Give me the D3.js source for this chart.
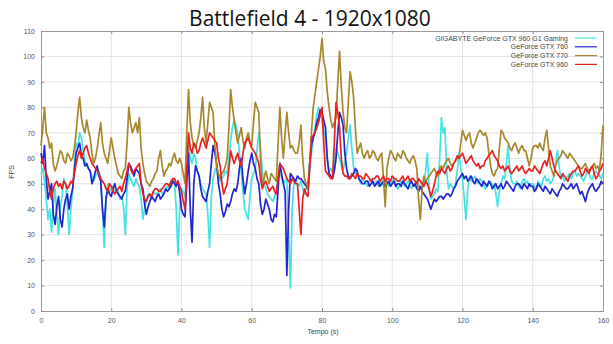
<!DOCTYPE html>
<html><head><meta charset="utf-8">
<script src="https://cdn.jsdelivr.net/npm/d3@7"></script>
<style>body{margin:0;background:#fff}svg{display:block}</style>
</head><body>
<svg id="c" width="613" height="344"></svg>
<script>
const title = "Battlefield 4 - 1920x1080";
const xLabel = "Tempo (s)";
const yLabel = "FPS";
const xTicks = [0,20,40,60,80,100,120,140,160];
const yTicks = [0,10,20,30,40,50,60,70,80,90,100,110];
const sampleStep = 0.5; // seconds between samples
const seriesNames = ["GIGABYTE GeForce GTX 960 G1 Gaming","GeForce GTX 760","GeForce GTX 770","GeForce GTX 960"];
const seriesColors = ["#45e2e2","#2424cc","#a8872c","#e82222"];

// samples every 0.5 s, t = 0..160 (one row = 10 s)
const gtx960g1 = [
54,56,51,44,36,40,31,42,48,38,30,41,45,52,50,42,30,40,47,58,
66,64,70,68,63,59,57,56,55,53,51,53,54,55,52,40,25,44,50,47,
48,49,46,48,47,44,45,41,30,48,54,52,50,49,52,50,49,44,36,40,
44,46,45,44,47,46,46,47,48,46,47,48,49,48,50,52,51,40,22,41,
48,47,45,56,65,60,58,62,60,55,53,50,48,47,46,38,25,45,52,55,
57,53,51,52,53,55,54,60,67,72,75,73,70,62,55,47,40,38,36,45,
52,54,56,63,70,64,55,50,48,46,45,44,43,45,47,52,55,52,50,51,
52,30,9,40,50,51,50,49,51,48,46,48,50,56,62,68,72,77,80,78,
75,71,68,60,55,56,54,58,64,62,60,57,55,59,62,68,73,64,56,54,
55,52,50,52,51,50,49,51,52,50,50,51,49,50,51,49,50,51,49,50,
51,52,50,48,49,51,51,49,50,51,49,48,50,49,51,50,48,49,50,55,
62,48,44,45,46,48,47,60,76,70,72,55,48,50,49,48,50,55,62,56,
52,44,36,48,53,51,52,53,51,50,52,51,50,48,49,50,51,49,50,46,
41,47,50,53,52,58,65,55,51,50,50,51,49,48,51,52,50,51,49,50,
50,49,48,51,50,49,52,53,51,52,50,51,53,58,63,57,52,53,51,52,
53,54,52,54,55,53,54,53,52,51,53,55,54,52,52,54,55,54,53,52,
54];
const gtx760 = [
62,58,65,52,44,47,50,38,34,41,45,36,33,40,44,46,40,45,48,55,
62,64,66,61,60,57,58,56,55,50,52,55,57,53,51,40,33,44,48,46,
45,48,50,47,46,45,44,46,47,52,58,57,55,53,56,55,54,50,48,42,
38,41,43,45,44,43,45,46,44,45,46,48,47,48,49,51,50,49,51,46,
40,38,37,50,62,40,27,50,57,55,53,48,45,44,43,47,50,58,65,62,
58,50,46,40,37,39,42,41,43,46,48,47,50,56,60,52,46,50,55,59,
62,58,56,52,50,42,38,40,44,42,40,36,35,38,37,48,58,54,50,47,
14,40,54,53,52,51,53,52,52,51,50,49,48,58,65,68,70,74,76,79,
78,75,72,60,54,53,52,55,60,70,78,76,73,62,56,53,52,53,54,56,
55,52,51,50,50,51,51,49,50,51,49,50,51,49,50,51,49,50,51,49,
50,51,49,50,50,49,51,50,49,48,50,51,49,50,48,47,49,47,46,45,
44,42,40,42,44,43,44,45,45,44,45,46,46,45,46,48,49,51,52,53,
54,52,53,51,52,53,51,50,52,51,50,49,51,50,49,51,50,48,49,50,
48,49,50,48,49,51,50,49,48,47,49,50,50,49,48,50,49,48,50,49,
49,47,48,50,49,48,47,49,48,47,46,48,47,46,45,47,48,50,49,48,
48,49,50,48,49,50,48,46,47,45,43,46,48,49,50,48,47,48,49,51,
50];
const gtx770 = [
65,72,80,70,68,64,66,58,55,57,60,63,62,59,58,62,61,59,60,64,
70,78,84,76,72,70,75,71,68,62,58,60,64,69,74,66,62,60,58,63,
68,64,60,57,54,53,52,55,56,66,80,74,70,72,74,70,76,64,58,54,
51,50,49,51,52,54,55,60,63,57,53,55,56,58,57,60,62,59,58,60,
58,54,50,70,87,74,68,65,64,67,70,76,84,72,66,74,82,80,78,65,
57,54,52,54,55,57,60,72,87,80,75,70,66,69,72,67,64,68,70,66,
65,74,82,80,78,60,49,52,55,52,50,54,53,52,51,66,80,68,60,70,
78,70,64,65,63,62,62,66,73,60,52,50,48,58,70,80,85,90,95,100,
107,98,95,86,80,75,72,74,76,90,102,88,78,72,70,82,94,90,84,72,
62,64,66,62,60,62,63,60,61,63,62,60,59,61,62,52,41,56,60,63,
62,60,59,62,61,60,63,62,60,59,58,60,61,59,56,44,36,48,53,51,
52,53,54,55,56,54,53,56,57,56,58,59,60,58,57,58,59,60,60,66,
71,69,67,69,70,66,64,66,68,70,71,70,69,70,68,62,57,54,53,55,
56,64,71,70,68,67,66,64,63,65,66,64,62,64,65,63,63,60,57,60,
64,65,65,64,66,64,63,68,71,64,57,55,53,57,59,60,61,63,62,61,
60,62,61,60,59,58,57,56,56,57,58,56,55,56,57,58,56,57,55,62,
73];
const gtx960 = [
58,60,56,54,52,47,44,48,50,51,49,50,48,51,50,48,49,51,50,54,
58,61,63,60,62,64,65,62,60,58,57,56,55,54,52,51,50,48,47,50,
49,47,46,47,48,49,47,50,52,55,58,56,54,55,56,57,58,50,46,44,
43,45,46,45,47,48,48,47,47,48,49,50,50,49,51,52,52,50,51,49,
47,43,40,55,70,64,62,66,65,62,63,66,68,66,64,67,70,69,68,67,
66,60,57,50,46,48,50,56,63,60,58,60,62,59,57,62,66,67,68,66,
64,63,62,60,58,52,48,50,51,49,47,48,49,47,46,52,58,57,56,54,
52,51,50,52,51,50,50,40,30,44,48,46,45,56,68,69,70,72,74,77,
80,66,55,54,53,52,52,66,82,78,72,60,54,53,53,52,52,54,53,52,
54,53,53,52,52,54,53,52,51,52,52,53,53,51,52,53,51,52,52,51,
53,52,52,51,51,52,53,51,52,53,51,52,52,51,50,52,51,50,49,51,
50,48,45,47,50,53,55,54,56,55,54,56,57,55,56,58,59,61,60,61,
62,60,58,59,60,61,59,58,57,58,56,57,57,59,60,61,62,63,61,60,
59,57,56,57,55,56,57,55,54,55,56,57,55,56,57,55,54,55,56,55,
55,57,56,55,54,56,58,59,57,60,63,60,57,55,54,53,52,54,53,52,
51,53,54,55,55,56,57,55,53,54,56,55,54,56,57,54,52,53,55,56,
58];
const seriesValues = [gtx960g1, gtx760, gtx770, gtx960];

const svg = d3.select("#c");
const m = {l:41, r:603, t:31, b:311};
const x = d3.scaleLinear().domain([0,160]).range([m.l, m.r]);
const y = d3.scaleLinear().domain([0,110]).range([m.b, m.t]);

// grid
svg.append("g").selectAll("line").data(yTicks.slice(1,-1)).join("line")
  .attr("x1", m.l).attr("x2", m.r).attr("y1", d=>y(d)).attr("y2", d=>y(d))
  .attr("stroke","#dcdcdc").attr("stroke-width",0.8);
svg.append("g").selectAll("line").data(xTicks.slice(1,-1)).join("line")
  .attr("y1", m.t).attr("y2", m.b).attr("x1", d=>x(d)).attr("x2", d=>x(d))
  .attr("stroke","#dcdcdc").attr("stroke-width",0.8);

// axes
const fnt = "Liberation Sans, Arial, sans-serif";
svg.append("g").attr("transform",`translate(0,${m.b})`)
  .call(d3.axisBottom(x).tickValues(xTicks).tickSize(-3).tickPadding(7));
svg.append("g").attr("transform",`translate(${m.l},0)`)
  .call(d3.axisLeft(y).tickValues(yTicks).tickSize(-3).tickPadding(6));
svg.append("g").attr("transform",`translate(${m.r},0)`)
  .call(d3.axisRight(y).tickValues(yTicks).tickSize(-3).tickFormat(""));
svg.append("g").attr("transform",`translate(0,${m.t})`)
  .call(d3.axisTop(x).tickValues(xTicks).tickSize(-3).tickFormat(""));
svg.selectAll(".domain").attr("stroke","#9a9a9a");
svg.selectAll(".tick line").attr("stroke","#8a8a8a");
svg.selectAll(".tick text").attr("fill","#555").style("font-family",fnt).style("font-size","7px");

// lines
const line = d3.line().x((d,i)=>x(i*sampleStep)).y(d=>y(d));
svg.append("g").selectAll("path").data(seriesValues).join("path")
  .attr("d", line).attr("fill","none")
  .attr("stroke",(d,i)=>seriesColors[i]).attr("stroke-width",1.7)
  .attr("stroke-linejoin","round");

// legend
const lg = svg.append("g");
seriesNames.forEach((n,i)=>{
  const yy = 38 + i*8.8;
  lg.append("text").attr("x",568).attr("y",yy+2.5).attr("text-anchor","end")
    .style("font-family",fnt).style("font-size","7px").attr("fill","#444").text(n);
  lg.append("line").attr("x1",575).attr("x2",597).attr("y1",yy).attr("y2",yy)
    .attr("stroke",seriesColors[i]).attr("stroke-width",1.2);
});

// titles
svg.append("text").attr("x",310).attr("y",26).attr("text-anchor","middle")
  .style("font-family","Open Sans, Liberation Sans, sans-serif").style("font-size","21px")
  .attr("fill","#111").text(title);
svg.append("text").attr("x",323).attr("y",334).attr("text-anchor","middle")
  .style("font-family",fnt).style("font-size","7px").attr("fill","#444").text(xLabel);
svg.append("text").attr("transform","translate(14,172) rotate(-90)").attr("text-anchor","middle")
  .style("font-family",fnt).style("font-size","7px").attr("fill","#444").text(yLabel);
</script>
</body></html>
